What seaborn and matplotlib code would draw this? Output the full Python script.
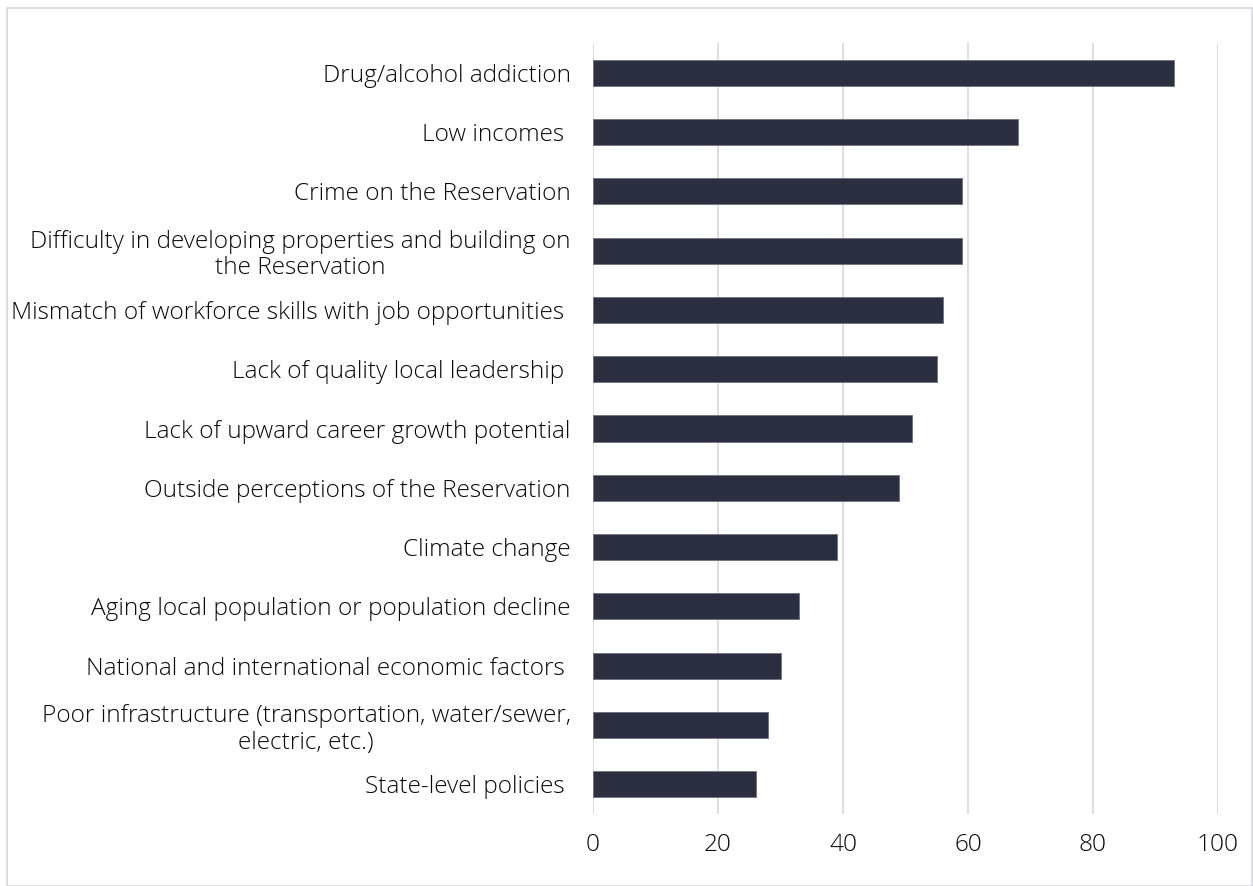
import pandas as pd
import numpy as np
import matplotlib.pyplot as plt
import seaborn as sns
from matplotlib.patches import Rectangle

challenges = [
    'Drug/alcohol addiction',
    'Low incomes ',
    'Crime on the Reservation',
    'Difficulty in developing properties and building on\nthe Reservation',
    'Mismatch of workforce skills with job opportunities ',
    'Lack of quality local leadership ',
    'Lack of upward career growth potential',
    'Outside perceptions of the Reservation',
    'Climate change',
    'Aging local population or population decline',
    'National and international economic factors ',
    'Poor infrastructure (transportation, water/sewer,\nelectric, etc.)',
    'State-level policies ',
]
counts = [93, 68, 59, 59, 56, 55, 51, 49, 39, 33, 30, 28, 26]

df = pd.DataFrame({'Challenge': challenges, 'Count': counts})

sns.set_theme(style='white')
plt.rcParams['font.family'] = ['Open Sans', 'DejaVu Sans']

fig = plt.figure(figsize=(12.53, 8.86), dpi=100)
ax = fig.add_axes([593 / 1253, 1 - 814 / 886, (1218 - 593) / 1253, (814 - 43) / 886])

sns.barplot(data=df, x='Count', y='Challenge', orient='h', color='#2b2f3f',
            width=0.44, edgecolor='#6e7180', linewidth=0.6, saturation=1, ax=ax, zorder=3)

ax.set_xlim(0, 100)
ax.set_xticks([0, 20, 40, 60, 80, 100])
ax.xaxis.grid(True, color='#dadae4', linewidth=1.3, zorder=0)
ax.set_axisbelow(True)
for s in ax.spines.values():
    s.set_visible(False)
ax.set_xlabel(None)
ax.set_ylabel(None)
ax.tick_params(axis='y', length=0, pad=16, labelsize=17.6, labelcolor='#0a0a0a')
ax.tick_params(axis='x', length=0, pad=14, labelsize=17.6, labelcolor='#0a0a0a')
for lbl in ax.get_yticklabels():
    lbl.set_multialignment('center')
    lbl.set_fontweight('light')
    lbl.set_linespacing(1.15)
for lbl in ax.get_xticklabels():
    lbl.set_fontweight('light')

# light frame around the whole chart
fig.patches.append(Rectangle((7 / 1253, 0), 1 - 7 / 1253 - 0.001, 1 - 8 / 886,
                             transform=fig.transFigure, fill=False,
                             edgecolor='#d9d9e3', linewidth=1.3))

plt.savefig('out.png', dpi=100)
